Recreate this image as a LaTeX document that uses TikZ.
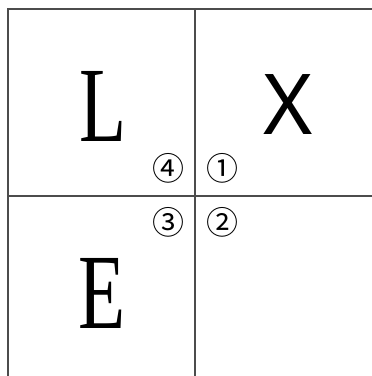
\documentclass[tikz,border=0pt]{standalone}
\usepackage{fontspec}
\newfontfamily\circfont{Noto Sans CJK SC}
\newfontfamily\xfont{Noto Sans}
\newfontfamily\serfont{Liberation Serif}
\begin{document}
\begin{tikzpicture}[
    x=1pt, y=1pt,
    grid/.style={draw=black!70, line width=1.4pt},
    bigserif/.style={anchor=base, inner sep=0pt, font=\serfont\fontsize{107}{107}\selectfont},
    bigsans/.style={anchor=base, inner sep=0pt, font=\xfont\fontsize{84}{84}\selectfont},
    circnum/.style={inner sep=0pt, font=\circfont\fontsize{32}{32}\selectfont}
]
\useasboundingbox (0, 0) rectangle (372, 376);

% Outer frame and the two cross lines
\draw[grid] (8, 0) -- (8, 367) -- (372, 367);
\draw[grid] (195, 0) -- (195, 367);
\draw[grid] (8, 180) -- (372, 180);

% Letters in the quadrants
\node[bigserif] (lL) at (103, 235) {\scalebox{0.72}[1]{L}};
\node[bigsans] (lX) at (288, 241) {X};
\node[bigserif] (lE) at (102.5, 48) {\scalebox{0.72}[1]{E}};

% Numbers round the centre
\node[circnum] (n1) at (222.5, 208) {①};
\node[circnum] (n2) at (222.5, 153.5) {②};
\node[circnum] (n3) at (169, 153.5) {③};
\node[circnum] (n4) at (169, 208) {④};

\end{tikzpicture}
\end{document}
